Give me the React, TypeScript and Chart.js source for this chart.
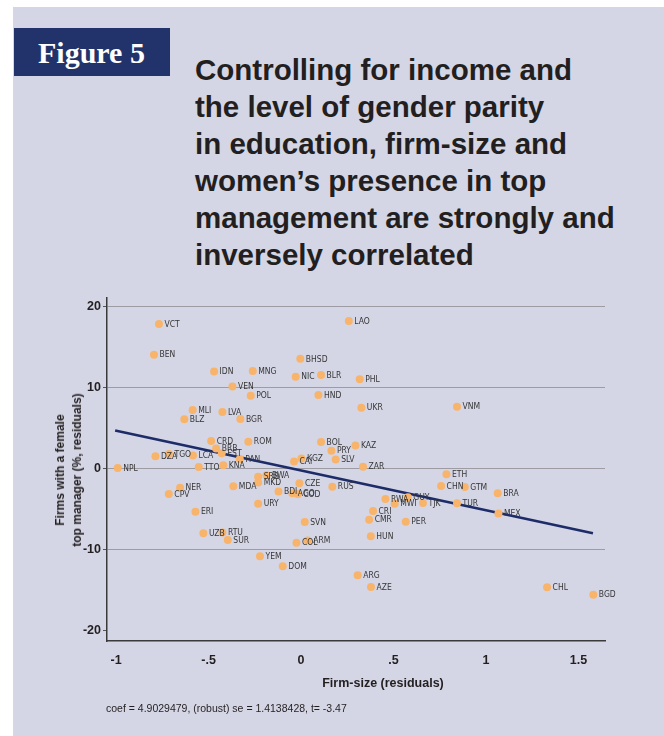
import React, { useEffect, useRef } from "react";
import { Chart, registerables } from "chart.js";

Chart.register(...registerables);

// Country codes and their residuals (firm size vs. share of firms with a female top manager)
const countries = [
  "VCT", "BEN", "IDN", "MNG", "BHSD", "NIC", "BLR", "LAO", "VEN", "POL",
  "HND", "PHL", "UKR", "VNM", "MLI", "LVA", "BLZ", "BGR", "CRD", "ROM",
  "BOL", "KAZ", "PRY", "SLV", "BRB", "EST", "PAN", "DZA", "TGO", "LCA",
  "NPL", "TTO", "KNA", "CAI", "KGZ", "ZAR", "ETH", "SRB", "BWA", "MKD",
  "MDA", "NER", "CPV", "CZE", "RUS", "BDI", "AGO", "COD", "URY", "ERI",
  "SVN", "UZB", "RTU", "SUR", "COL", "ARM", "YEM", "DOM", "CHN", "GTM",
  "BRA", "RWA", "GUY", "MWI", "TJK", "TUR", "MEX", "CRI", "CMR", "PER",
  "HUN", "ARG", "AZE", "CHL", "BGD",
];

const firmSize = [
  -0.768, -0.795, -0.47, -0.261, -0.004, -0.029, 0.108, 0.258, -0.371, -0.272,
  0.094, 0.317, 0.326, 0.843, -0.586, -0.425, -0.631, -0.328, -0.486, -0.285,
  0.108, 0.294, 0.164, 0.187, -0.459, -0.429, -0.331, -0.787, -0.714, -0.584,
  -0.991, -0.553, -0.42, -0.038, 0.002, 0.335, 0.786, -0.232, -0.187, -0.232,
  -0.366, -0.654, -0.715, -0.009, 0.169, -0.122, -0.047, -0.018, -0.232, -0.571,
  0.02, -0.528, -0.425, -0.396, -0.025, 0.036, -0.222, -0.099, 0.757, 0.885,
  1.063, 0.456, 0.577, 0.506, 0.659, 0.843, 1.067, 0.389, 0.368, 0.566,
  0.377, 0.306, 0.378, 1.33, 1.58,
];

const femaleTopMgr = [
  17.8, 14.0, 11.95, 12.0, 13.5, 11.3, 11.5, 18.15, 10.1, 8.95,
  9.03, 11.0, 7.47, 7.6, 7.2, 6.95, 6.04, 6.07, 3.36, 3.28,
  3.24, 2.83, 2.17, 1.1, 2.46, 1.85, 1.15, 1.5, 1.76, 1.6,
  0.04, 0.16, 0.37, 0.86, 1.23, 0.2, -0.74, -1.03, -0.86, -1.73,
  -2.22, -2.39, -3.17, -1.85, -2.26, -2.84, -3.08, -3.17, -4.36, -5.35,
  -6.62, -8.0, -7.9, -8.84, -9.17, -8.88, -10.84, -12.08, -2.18, -2.3,
  -3.08, -3.78, -3.57, -4.36, -4.28, -4.31, -5.55, -5.26, -6.33, -6.58,
  -8.38, -13.19, -14.63, -14.66, -15.57,
];

// Fitted regression line end points
const fitX = [-1.005, 1.578];
const fitY = [4.68, -8.0];

const xTickValues = [-1, -0.5, 0, 0.5, 1, 1.5];
const xTickLabels = ["-1", "-.5", "0", ".5", "1", "1.5"];
const yTickValues = [-20, -10, 0, 10, 20];
const yTickLabels = ["-20", "-10", "0", "10", "20"];

const titleLines = [
  "Controlling for income and",
  "the level of gender parity",
  "in education, firm-size and",
  "women\u2019s presence in top",
  "management are strongly and",
  "inversely correlated",
];

const noteText = "coef = 4.9029479, (robust) se = 1.4138428, t= -3.47";

const SANS = '"Liberation Sans", Arial, sans-serif';
const NARROW = '"Liberation Sans Narrow", "DejaVu Sans Condensed", sans-serif';

const pointLabels = {
  id: "pointLabels",
  afterDatasetsDraw(chart: any) {
    const meta = chart.getDatasetMeta(1);
    const ctx = chart.ctx;
    ctx.save();
    ctx.font = `8.5px ${NARROW}`;
    ctx.fillStyle = "#363636";
    ctx.textBaseline = "middle";
    ctx.textAlign = "left";
    meta.data.forEach((el: any, i: number) => {
      ctx.fillText(countries[i], el.x + 5.5, el.y + 0.5);
    });
    ctx.restore();
  },
};

export default function App() {
  const canvasRef = useRef<HTMLCanvasElement>(null);

  useEffect(() => {
    const canvas = canvasRef.current;
    if (!canvas) return;
    const chart = new Chart(canvas, {
      type: "scatter",
      data: {
        datasets: [
          {
            type: "line",
            data: fitX.map((x, i) => ({ x, y: fitY[i] })),
            borderColor: "#1d2c68",
            borderWidth: 2.6,
            pointRadius: 0,
            fill: false,
            order: 2,
          } as any,
          {
            type: "scatter",
            data: firmSize.map((x, i) => ({ x, y: femaleTopMgr[i] })),
            backgroundColor: "#f8b46b",
            borderWidth: 0,
            pointRadius: 4,
            order: 1,
          },
        ],
      },
      options: {
        responsive: false,
        animation: false,
        devicePixelRatio: 1,
        layout: { padding: { top: 298, right: 59, bottom: 0, left: 0 } },
        plugins: { legend: { display: false }, tooltip: { enabled: false } },
        scales: {
          x: {
            type: "linear",
            min: -1.049,
            max: 1.643,
            afterFit(s: any) {
              s.height = 95;
            },
            afterBuildTicks(s: any) {
              s.ticks = xTickValues.map((v) => ({ value: v }));
            },
            grid: { display: false, drawTicks: false },
            border: { display: true, color: "#3a3a3a", width: 1.5 },
            ticks: {
              autoSkip: false,
              maxRotation: 0,
              padding: 12,
              color: "#231f20",
              font: { family: SANS, size: 12.5, weight: "bold" },
              callback: (v: any) => xTickLabels[xTickValues.indexOf(Number(v))] ?? "",
            },
          },
          y: {
            type: "linear",
            min: -21.28,
            max: 21.0,
            afterFit(s: any) {
              s.width = 107;
            },
            afterBuildTicks(s: any) {
              s.ticks = yTickValues.map((v) => ({ value: v }));
            },
            grid: {
              color: (c: any) => (c.tick && c.tick.value === -20 ? "rgba(0,0,0,0)" : "#9c9ca2"),
              tickColor: "#555",
              lineWidth: 1,
              tickLength: 4,
              drawTicks: true,
            },
            border: { display: true, color: "#3a3a3a", width: 1.5 },
            ticks: {
              autoSkip: false,
              padding: 2,
              color: "#231f20",
              font: { family: SANS, size: 12.5, weight: "bold" },
              callback: (v: any) => yTickLabels[yTickValues.indexOf(Number(v))] ?? "",
            },
          },
        },
      },
      plugins: [pointLabels],
    } as any);
    return () => chart.destroy();
  }, []);

  return (
    <div
      style={{
        position: "fixed",
        left: 0,
        top: 0,
        width: 664,
        height: 736,
        background: "#ffffff",
        overflow: "hidden",
      }}
    >
      <div
        style={{
          position: "absolute",
          left: 13,
          top: 7,
          width: 651,
          height: 729,
          background: "#d4d6e5",
        }}
      />
      <div
        style={{
          position: "absolute",
          left: 14,
          top: 28,
          width: 156,
          height: 48,
          background: "#22336b",
        }}
      />
      <div
        style={{
          position: "absolute",
          left: 38,
          top: 36,
          font: 'bold 30px "Liberation Serif", serif',
          lineHeight: "34px",
          color: "#ffffff",
          whiteSpace: "nowrap",
        }}
      >
        Figure 5
      </div>
      <div
        style={{
          position: "absolute",
          left: 195,
          top: 51,
          font: `bold 29.5px ${SANS}`,
          lineHeight: "37px",
          color: "#231f20",
          whiteSpace: "nowrap",
        }}
      >
        {titleLines.map((t) => (
          <div key={t}>{t}</div>
        ))}
      </div>
      <canvas
        ref={canvasRef}
        width={664}
        height={736}
        style={{ position: "absolute", left: 0, top: 0, width: 664, height: 736 }}
      />
      <div
        style={{
          position: "absolute",
          left: 69,
          top: 470,
          transform: "translate(-50%, -50%) rotate(-90deg)",
          font: `bold 12px ${SANS}`,
          lineHeight: "17px",
          color: "#231f20",
          textAlign: "center",
          whiteSpace: "nowrap",
        }}
      >
        <div>Firms with a female</div>
        <div>top manager (%, residuals)</div>
      </div>
      <div
        style={{
          position: "absolute",
          left: 383,
          top: 683,
          transform: "translate(-50%, -50%)",
          font: `bold 12.5px ${SANS}`,
          lineHeight: "16px",
          color: "#231f20",
          whiteSpace: "nowrap",
        }}
      >
        Firm-size (residuals)
      </div>
      <div
        style={{
          position: "absolute",
          left: 106,
          top: 701,
          font: `10.5px ${SANS}`,
          lineHeight: "14px",
          color: "#231f20",
          whiteSpace: "nowrap",
        }}
      >
        {noteText}
      </div>
    </div>
  );
}
